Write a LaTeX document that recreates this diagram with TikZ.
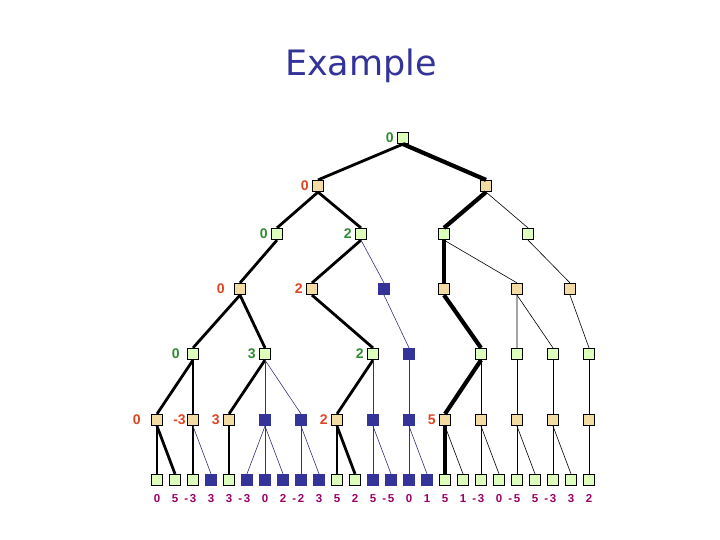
\documentclass[tikz,border=0pt]{standalone}
\usepackage{fontspec}
\newfontfamily\titlefont{DejaVu Sans}
\newfontfamily\lblfont{Liberation Sans}
\usetikzlibrary{positioning}
\definecolor{maxfill}{HTML}{DDFFBB}
\definecolor{minfill}{HTML}{F2DCA2}
\definecolor{cutfill}{HTML}{333399}
\definecolor{cutline}{HTML}{333377}
\definecolor{maxtext}{HTML}{2E8B2E}
\definecolor{mintext}{HTML}{DD4422}
\definecolor{leaftext}{HTML}{990066}
\newcommand{\negval}[1]{\llap{-\kern1.5pt}#1}

\begin{document}
\begin{tikzpicture}
  [x=1pt,y=-1pt,
   maxN/.style={rectangle,draw,fill=maxfill,minimum size=11.5pt,inner sep=0pt,line width=0.7pt},
   minN/.style={maxN,fill=minfill},
   cutN/.style={maxN,draw=cutfill,fill=cutfill},
   maxT/.style={text=maxtext,font=\lblfont\bfseries\fontsize{14}{14}\selectfont,inner sep=0pt,label distance=3pt},
   minT/.style={maxT,text=mintext},
   leafT/.style={text=leaftext,font=\lblfont\bfseries\fontsize{11.5}{11.5}\selectfont,inner sep=0pt,label distance=8pt},
   bestE/.style={line width=2.8pt},
   pvE/.style={line width=4.2pt},
   thinE/.style={line width=0.6pt},
   cutE/.style={line width=0.6pt,draw=cutline},
   node distance=5.8pt]

  \useasboundingbox (0,0) rectangle (720,540);

  \node[text=cutfill,font=\titlefont\fontsize{35}{35}\selectfont,anchor=base] (title) at (361,76) {Example};

  % leaves
  \node[maxN,label={[leafT]below:0}] (6a) at (157,480) {};
  \node[maxN,label={[leafT]below:5}] (6b) [right=of 6a] {};
  \node[maxN,label={[leafT]below:\negval{3}}] (6c) [right=of 6b] {};
  \node[cutN,label={[leafT]below:3}] (6d) [right=of 6c] {};
  \node[maxN,label={[leafT]below:3}] (6e) [right=of 6d] {};
  \node[cutN,label={[leafT]below:\negval{3}}] (6f) [right=of 6e] {};
  \node[cutN,label={[leafT]below:0}] (6g) [right=of 6f] {};
  \node[cutN,label={[leafT]below:2}] (6h) [right=of 6g] {};
  \node[cutN,label={[leafT]below:\negval{2}}] (6i) [right=of 6h] {};
  \node[cutN,label={[leafT]below:3}] (6j) [right=of 6i] {};
  \node[maxN,label={[leafT]below:5}] (6k) [right=of 6j] {};
  \node[maxN,label={[leafT]below:2}] (6l) [right=of 6k] {};
  \node[cutN,label={[leafT]below:5}] (6m) [right=of 6l] {};
  \node[cutN,label={[leafT]below:\negval{5}}] (6n) [right=of 6m] {};
  \node[cutN,label={[leafT]below:0}] (6o) [right=of 6n] {};
  \node[cutN,label={[leafT]below:1}] (6p) [right=of 6o] {};
  \node[maxN,label={[leafT]below:5}] (6q) [right=of 6p] {};
  \node[maxN,label={[leafT]below:1}] (6r) [right=of 6q] {};
  \node[maxN,label={[leafT]below:\negval{3}}] (6s) [right=of 6r] {};
  \node[maxN,label={[leafT]below:0}] (6t) [right=of 6s] {};
  \node[maxN,label={[leafT]below:\negval{5}}] (6u) [right=of 6t] {};
  \node[maxN,label={[leafT]below:5}] (6v) [right=of 6u] {};
  \node[maxN,label={[leafT]below:\negval{3}}] (6w) [right=of 6v] {};
  \node[maxN,label={[leafT]below:3}] (6x) [right=of 6w] {};
  \node[maxN,label={[leafT]below:2}] (6y) [right=of 6x] {};

  % min level above the leaves
  \node[minN,label={[minT,label distance=10pt]left:0}] (5a) [above=47.8pt of 6a] {};
  \node[minN,label={[minT,label distance=1pt]left:-3}] (5b) [above=47.8pt of 6c] {};
  \node[minN,label={[minT]left:3}] (5c) [above=47.8pt of 6e] {};
  \node[cutN] (5d) [above=47.8pt of 6g] {};
  \node[cutN] (5e) [above=47.8pt of 6i] {};
  \node[minN,label={[minT]left:2}] (5f) [above=47.8pt of 6k] {};
  \node[cutN] (5g) [above=47.8pt of 6m] {};
  \node[cutN] (5h) [above=47.8pt of 6o] {};
  \node[minN,label={[minT]left:5}] (5i) [above=47.8pt of 6q] {};
  \node[minN] (5j) [above=47.8pt of 6s] {};
  \node[minN] (5k) [above=47.8pt of 6u] {};
  \node[minN] (5l) [above=47.8pt of 6w] {};
  \node[minN] (5m) [above=47.8pt of 6y] {};

  \node[maxN,label={[maxT,label distance=7pt]left:0}] (4a) [above=53.8pt of 5b] {};
  \node[maxN,label={[maxT]left:3}] (4b) [above=53.8pt of 5d] {};
  \node[maxN,label={[maxT]left:2}] (4c) [above=53.8pt of 5g] {};
  \node[cutN] (4d) [above=53.8pt of 5h] {};
  \node[maxN] (4e) [above=53.8pt of 5j] {};
  \node[maxN] (4f) [above=53.8pt of 5k] {};
  \node[maxN] (4g) [above=53.8pt of 5l] {};
  \node[maxN] (4h) [above=53.8pt of 5m] {};

  \node[minN,label={[minT,label distance=9pt]left:0}] (3a) at (240,289) {};
  \node[minN,label={[minT]left:2}] (3b) at (312,289) {};
  \node[cutN] (3c) at (384,289) {};
  \node[minN] (3d) at (444,289) {};
  \node[minN] (3e) at (517,289) {};
  \node[minN] (3f) at (570,289) {};

  \node[maxN,label={[maxT]left:0}] (2a) at (277,234) {};
  \node[maxN,label={[maxT]left:2}] (2b) at (361,234) {};
  \node[maxN] (2c) at (444,234) {};
  \node[maxN] (2d) at (528,234) {};

  \node[minN,label={[minT]left:0}] (1a) at (318,186) {};
  \node[minN] (1b) at (486,186) {};

  \node[maxN,label={[maxT]left:0}] (0a) at (403,138) {};

  % edges
  \draw[bestE] (0a.south) -- (1a.north);
  \draw[pvE] (0a.south) -- (1b.north);
  \draw[bestE] (1a.south) -- (2a.north);
  \draw[bestE] (1a.south) -- (2b.north);
  \draw[pvE] (1b.south) -- (2c.north);
  \draw[thinE] (1b.south) -- (2d.north);
  \draw[bestE] (2a.south) -- (3a.north);
  \draw[bestE] (2b.south) -- (3b.north);
  \draw[cutE] (2b.south) -- (3c.north);
  \draw[pvE] (2c.south) -- (3d.north);
  \draw[thinE] (2c.south) -- (3e.north);
  \draw[thinE] (2d.south) -- (3f.north);
  \draw[bestE] (3a.south) -- (4a.north);
  \draw[bestE] (3a.south) -- (4b.north);
  \draw[bestE] (3b.south) -- (4c.north);
  \draw[cutE] (3c.south) -- (4d.north);
  \draw[pvE] (3d.south) -- (4e.north);
  \draw[thinE] (3e.south) -- (4f.north);
  \draw[thinE] (3e.south) -- (4g.north);
  \draw[thinE] (3f.south) -- (4h.north);
  \draw[bestE] (4a.south) -- (5a.north);
  \draw[bestE] (4a.south) -- (5b.north);
  \draw[bestE] (4b.south) -- (5c.north);
  \draw[cutE] (4b.south) -- (5d.north);
  \draw[cutE] (4b.south) -- (5e.north);
  \draw[bestE] (4c.south) -- (5f.north);
  \draw[cutE] (4c.south) -- (5g.north);
  \draw[cutE] (4d.south) -- (5h.north);
  \draw[pvE] (4e.south) -- (5i.north);
  \draw[thinE] (4e.south) -- (5j.north);
  \draw[thinE] (4f.south) -- (5k.north);
  \draw[thinE] (4g.south) -- (5l.north);
  \draw[thinE] (4h.south) -- (5m.north);
  \draw[bestE] (5a.south) -- (6a.north);
  \draw[bestE] (5a.south) -- (6b.north);
  \draw[bestE] (5b.south) -- (6c.north);
  \draw[cutE] (5b.south) -- (6d.north);
  \draw[bestE] (5c.south) -- (6e.north);
  \draw[cutE] (5d.south) -- (6f.north);
  \draw[cutE] (5d.south) -- (6g.north);
  \draw[cutE] (5d.south) -- (6h.north);
  \draw[cutE] (5e.south) -- (6i.north);
  \draw[cutE] (5e.south) -- (6j.north);
  \draw[bestE] (5f.south) -- (6k.north);
  \draw[bestE] (5f.south) -- (6l.north);
  \draw[cutE] (5g.south) -- (6m.north);
  \draw[cutE] (5g.south) -- (6n.north);
  \draw[cutE] (5h.south) -- (6o.north);
  \draw[cutE] (5h.south) -- (6p.north);
  \draw[pvE] (5i.south) -- (6q.north);
  \draw[thinE] (5i.south) -- (6r.north);
  \draw[thinE] (5j.south) -- (6s.north);
  \draw[thinE] (5j.south) -- (6t.north);
  \draw[thinE] (5k.south) -- (6u.north);
  \draw[thinE] (5k.south) -- (6v.north);
  \draw[thinE] (5l.south) -- (6w.north);
  \draw[thinE] (5l.south) -- (6x.north);
  \draw[thinE] (5m.south) -- (6y.north);
\end{tikzpicture}
\end{document}
